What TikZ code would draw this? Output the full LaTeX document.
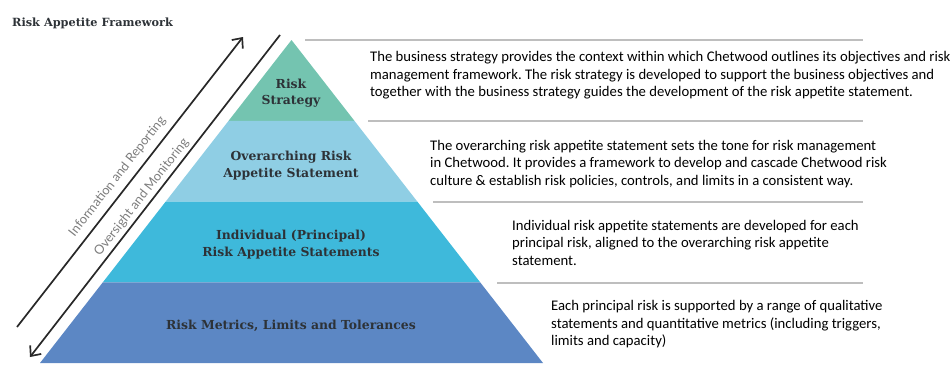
\documentclass[tikz,border=0pt]{standalone}
\usepackage{fontspec}
\setmainfont{Carlito}
\newfontfamily\slabfont{DejaVu Serif}
\newfontfamily\arrowfont{Lato}
\usetikzlibrary{arrows.meta,calc}
\definecolor{layerA}{RGB}{116,196,176}
\definecolor{layerB}{RGB}{143,206,228}
\definecolor{layerC}{RGB}{62,185,219}
\definecolor{layerD}{RGB}{92,135,196}
\definecolor{darktext}{RGB}{45,50,55}
\definecolor{linegray}{RGB}{190,190,190}
\definecolor{arrowgray}{RGB}{125,125,125}
\definecolor{arrowline}{RGB}{40,40,40}
\frenchspacing
\begin{document}
\begin{tikzpicture}[x=1pt,y=-1pt,
  layerlabel/.style={font=\slabfont\bfseries\fontsize{12.4}{16.3}\selectfont, text=darktext, align=center, inner sep=0pt},
  titlestyle/.style={font=\slabfont\bfseries\fontsize{11.3}{13}\selectfont, text=darktext, inner sep=0pt, anchor=base west},
  desc/.style={font=\fontsize{14.7}{17.5}\selectfont, text=black, align=left, anchor=west, inner sep=0pt},
  sepline/.style={draw=linegray, line width=2pt},
  flowarrow/.style={draw=arrowline, line width=1.7pt, -{Straight Barb[length=8pt,width=14pt,line width=1.7pt]}},
  arrowlabel/.style={font=\arrowfont\fontsize{12.8}{14}\selectfont, text=arrowgray, rotate=52, inner sep=0pt}
]
\useasboundingbox (0,0) rectangle (952,378);

% pyramid corners
\coordinate (apex) at (291.5,40);
\coordinate (bl) at (40,363);
\coordinate (br) at (543,363);
\coordinate (l1) at ($(apex)!0.25!(bl)$);
\coordinate (r1) at ($(apex)!0.25!(br)$);
\coordinate (l2) at ($(apex)!0.5!(bl)$);
\coordinate (r2) at ($(apex)!0.5!(br)$);
\coordinate (l3) at ($(apex)!0.75!(bl)$);
\coordinate (r3) at ($(apex)!0.75!(br)$);

\fill[layerA] (apex) -- (r1) -- (l1) -- cycle;
\fill[layerB] (l1) -- (r1) -- (r2) -- (l2) -- cycle;
\fill[layerC] (l2) -- (r2) -- (r3) -- (l3) -- cycle;
\fill[layerD] (l3) -- (r3) -- (br) -- (bl) -- cycle;

% title
\node[titlestyle] (title) at (12,26.7) {Risk Appetite Framework};

% layer labels
\node[layerlabel] (strategy) at (291,93.5) {Risk\\Strategy};
\node[layerlabel] (overarching) at (291,165.5) {Overarching Risk\\Appetite Statement};
\node[layerlabel] (individual) at (291,244.5) {Individual (Principal)\\Risk Appetite Statements};
\node[layerlabel] (metrics) at (291,325.5) {Risk Metrics, Limits and Tolerances};

% separator lines
\coordinate (s1a) at (305,40);   \coordinate (s1b) at (863,40);
\coordinate (s2a) at (368,120.5); \coordinate (s2b) at (863,120.5);
\coordinate (s3a) at (433,201.5); \coordinate (s3b) at (863,201.5);
\coordinate (s4a) at (497,282.5); \coordinate (s4b) at (863,282.5);
\draw[sepline] (s1a) -- (s1b);
\draw[sepline] (s2a) -- (s2b);
\draw[sepline] (s3a) -- (s3b);
\draw[sepline] (s4a) -- (s4b);

% descriptions
\node[desc] (d1) at (370,75.3) {The business strategy provides the context within which Chetwood outlines its objectives and risk\\management framework. The risk strategy is developed to support the business objectives and\\together with the business strategy guides the development of the risk appetite statement.};
\node[desc] (d2) at (430,164) {The overarching risk appetite statement sets the tone for risk management\\in Chetwood. It provides a framework to develop and cascade Chetwood risk\\culture \& establish risk policies, controls, and limits in a consistent way.};
\node[desc] (d3) at (512,242.5) {Individual risk appetite statements are developed for each\\principal risk, aligned to the overarching risk appetite\\statement.};
\node[desc] (d4) at (551,324.5) {Each principal risk is supported by a range of qualitative\\statements and quantitative metrics (including triggers,\\limits and capacity)};

% arrows
\coordinate (upstart) at (17,327);
\coordinate (upend) at (243,37);
\coordinate (downstart) at (280,35);
\coordinate (downend) at (30,357);
\draw[flowarrow] (upstart) -- (upend);
\draw[flowarrow] (downstart) -- (downend);
\node[arrowlabel] (info) at (117.5,176.7) {Information and Reporting};
\node[arrowlabel] (oversight) at (141.7,197.3) {Oversight and Monitoring};
\end{tikzpicture}
\end{document}
